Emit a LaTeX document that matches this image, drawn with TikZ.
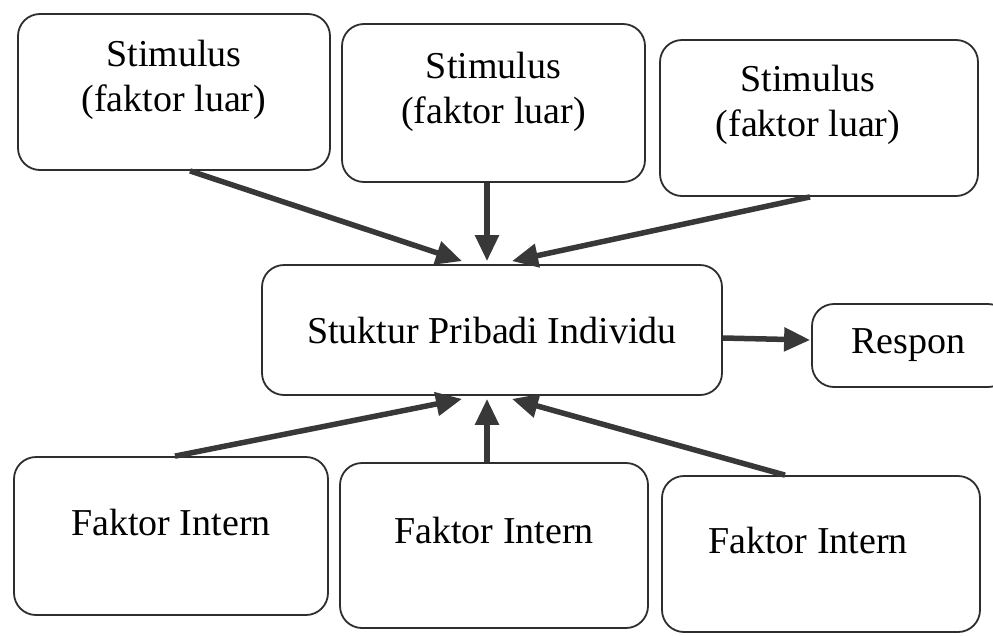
\documentclass[tikz,border=0pt]{standalone}
\usepackage{fontspec}
\setmainfont{Liberation Serif}
\usetikzlibrary{arrows.meta}
\definecolor{boxc}{HTML}{2E2E2E}
\definecolor{arrc}{HTML}{383838}
\begin{document}
\begin{tikzpicture}[x=1pt,y=-1pt,
  box/.style={draw=boxc, line width=1.8pt, rounded corners=22pt, fill=white, inner sep=0pt},
  txt/.style={align=center, font=\fontsize{38}{45}\selectfont, text=black, inner sep=0pt},
  arr/.style={draw=arrc, line width=5.5pt, -{Triangle[length=26pt,width=23pt]}}]
\useasboundingbox (0,0) rectangle (993,635);
\clip (0,0) rectangle (993,635);
\fill[white] (0,0) rectangle (993,635);
% top row
\node[box, minimum width=312pt, minimum height=156pt,
  label={[txt, yshift=12pt]center:Stimulus\\(faktor luar)}] (s1) at (174,92) {};
\node[box, minimum width=303pt, minimum height=158pt,
  label={[txt, yshift=11pt]center:Stimulus\\(faktor luar)}] (s2) at (493.5,103) {};
\node[box, minimum width=318pt, minimum height=156pt,
  label={[txt, yshift=13pt, xshift=-11pt]center:Stimulus\\(faktor luar)}] (s3) at (819,118) {};
% middle
\node[box, minimum width=460pt, minimum height=130pt,
  label={[txt]center:Stuktur Pribadi Individu}] (c) at (492,330) {};
\node[box, minimum width=198pt, minimum height=83pt,
  label={[txt, xshift=-3pt]center:Respon}] (r) at (911,345.5) {};
% bottom row
\node[box, minimum width=314pt, minimum height=158pt,
  label={[txt, yshift=14pt]center:Faktor Intern}] (f1) at (171,536) {};
\node[box, minimum width=308pt, minimum height=165pt,
  label={[txt, yshift=15pt]center:Faktor Intern}] (f2) at (494,545.5) {};
\node[box, minimum width=318pt, minimum height=156pt,
  label={[txt, yshift=14pt, xshift=-13pt]center:Faktor Intern}] (f3) at (821,554) {};
% connectors
\draw[arr] ([xshift=16pt]s1.south) -- ([xshift=-30pt,yshift=3pt]c.north);
\draw[arr] ([xshift=-6.5pt]s2.south) -- ([xshift=-5pt,yshift=3pt]c.north);
\draw[arr] ([xshift=-9pt]s3.south) -- ([xshift=20pt,yshift=3pt]c.north);
\draw[arr] ([yshift=-8pt]c.east) -- ([yshift=5.5pt,xshift=-1pt]r.west);
\draw[arr] ([xshift=4pt]f1.north) -- ([xshift=-30pt,yshift=-3pt]c.south);
\draw[arr] ([xshift=-7pt]f2.north) -- ([xshift=-5pt,yshift=-3pt]c.south);
\draw[arr] ([xshift=-36pt]f3.north) -- ([xshift=20pt,yshift=-3pt]c.south);
\end{tikzpicture}
\end{document}
